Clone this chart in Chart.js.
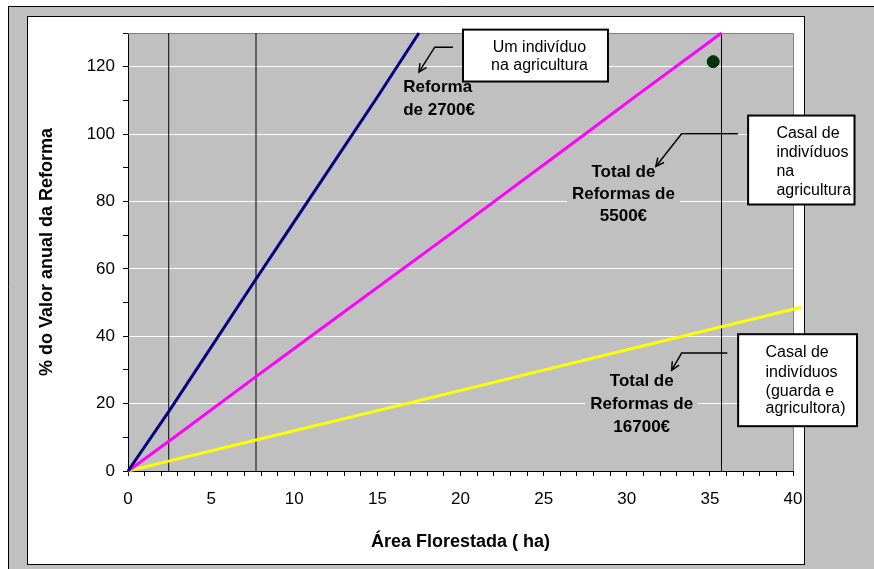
<!DOCTYPE html>
<html>
<head>
<meta charset="utf-8">
<script src="https://cdn.jsdelivr.net/npm/chart.js@4.4.0/dist/chart.umd.min.js"></script>
<style>
    html, body { margin: 0; padding: 0; background: #fff; }
</style>
</head>
<body>
<canvas id="chart" width="874" height="569"></canvas>
<script>
// values (x = ha, y = %)
const blueX = [0, 2.5, 7.7, 10, 15, 17.5];
const blueY = [0, 18, 57, 74, 111, 130];
const pinkX = [0, 2.5, 7.7, 11, 19.3, 27.5, 30.2, 35.7];
const pinkY = [0, 9, 28, 40, 70, 100, 110, 130];
const yellowX = [0, 2.5, 7.7, 17, 40.5];
const yellowY = [0, 3, 9.2, 20.3, 48.6];
const markerX = [2.45, 7.7, 35.7];
const dotX = [35.2];
const dotY = [121.5];
const xTicks = [0, 5, 10, 15, 20, 25, 30, 35, 40];
const yTicks = [0, 20, 40, 60, 80, 100, 120];

const FONT = "'Liberation Sans', Arial, sans-serif";

function pts(xs, ys) {
    return xs.map((x, i) => ({x: x, y: ys[i]}));
}

let datasets = [
    {data: pts(blueX, blueY), borderColor: '#000080', borderWidth: 3, order: 1},
    {data: pts(pinkX, pinkY), borderColor: '#ff00ff', borderWidth: 3, order: 1},
    {data: pts(yellowX, yellowY), borderColor: '#ffff00', borderWidth: 3, order: 1},
];
markerX.forEach((x) => {
    datasets.push({data: [{x: x, y: 0}, {x: x, y: 130}], borderColor: '#000', borderWidth: 1, order: 5});
});
datasets.push({
    data: pts(dotX, dotY), showLine: false, pointRadius: 6,
    pointBackgroundColor: '#003300', pointBorderColor: '#003300', order: 0
});
datasets.forEach((d) => {
    d.showLine = d.showLine !== false;
    if (d.pointRadius === undefined) d.pointRadius = 0;
    d.fill = false;
    d.clip = false;
});

// callouts, in axis units
const notes = [
    {box: [20.15, 131, 28.87, 115.6], align: 'center', tx: 24.75, lines: [['Um indivíduo', 125.6], ['na agricultura', 120.3]]},
    {box: [37.3, 105.5, 43.7, 79.1], align: 'left', tx: 39.0, lines: [['Casal de', 100.1], ['indivíduos', 94.5], ['na', 88.9], ['agricultura', 83.3]]},
    {box: [36.7, 40.6, 43.85, 13.3], align: 'left', tx: 38.35, lines: [['Casal de', 35.0], ['indivíduos', 29.3], ['(guarda e', 23.7], ['agricultora)', 18.4]]},
];
const labels = [
    {align: 'left', tx: 16.55, lines: [['Reforma', 113.8], ['de 2700€', 107.2]]},
    {align: 'center', tx: 29.8, lines: [['Total de', 88.6], ['Reformas de', 82.0], ['5500€', 75.5]]},
    {align: 'center', tx: 30.9, lines: [['Total de', 26.7], ['Reformas de', 19.9], ['16700€', 13.0]]},
];
const arrows = [
    [[19.55, 125.8], [18.45, 125.8], [17.5, 118.4]],
    [[36.7, 100.1], [33.3, 100.1], [31.75, 90.4]],
    [[36.05, 35.0], [33.3, 35.0], [32.7, 29.9]],
];

const framePlugin = {
    id: 'frame',
    beforeDraw(chart) {
        const ctx = chart.ctx;
        const a = chart.chartArea;
        ctx.save();
        ctx.fillStyle = '#fff';
        ctx.fillRect(0, 0, chart.width, chart.height);
        ctx.fillStyle = '#c0c0c0';
        ctx.fillRect(8, 6, chart.width - 8, chart.height - 6);
        ctx.strokeStyle = '#000';
        ctx.lineWidth = 1;
        ctx.beginPath();
        ctx.moveTo(8.5, chart.height);
        ctx.lineTo(8.5, 6.5);
        ctx.lineTo(chart.width, 6.5);
        ctx.stroke();
        ctx.fillStyle = '#fff';
        ctx.fillRect(27, 16, 777, 548);
        ctx.strokeRect(27.5, 16.5, 777, 548);
        ctx.fillStyle = '#c0c0c0';
        ctx.fillRect(a.left, a.top, a.right - a.left, a.bottom - a.top);
        ctx.restore();
    },
    beforeDatasetsDraw(chart) {
        const ctx = chart.ctx;
        const a = chart.chartArea;
        ctx.save();
        ctx.strokeStyle = '#808080';
        ctx.lineWidth = 1;
        ctx.beginPath();
        ctx.moveTo(a.left, a.top + 0.5);
        ctx.lineTo(a.right + 0.5, a.top + 0.5);
        ctx.lineTo(a.right + 0.5, a.bottom);
        ctx.stroke();
        ctx.restore();
    },
    afterDraw(chart) {
        const ctx = chart.ctx;
        const sx = chart.scales.x, sy = chart.scales.y;
        const X = (v) => sx.getPixelForValue(v);
        const Y = (v) => sy.getPixelForValue(v);
        ctx.save();
        ctx.textBaseline = 'middle';

        // bold labels on a grey patch so the grid breaks behind them
        ctx.font = 'bold 17px ' + FONT;
        labels.forEach((lab) => {
            ctx.textAlign = lab.align;
            lab.lines.forEach(([t, y]) => {
                const w = ctx.measureText(t).width;
                const x0 = lab.align === 'center' ? X(lab.tx) - w / 2 : X(lab.tx);
                ctx.fillStyle = '#c0c0c0';
                ctx.fillRect(x0 - 5, Y(y) - 10, w + 10, 20);
            });
            ctx.fillStyle = '#000';
            lab.lines.forEach(([t, y]) => ctx.fillText(t, X(lab.tx), Y(y)));
        });

        // callout arrows
        ctx.strokeStyle = '#000';
        ctx.lineWidth = 1.5;
        arrows.forEach((p) => {
            ctx.beginPath();
            ctx.moveTo(X(p[0][0]), Y(p[0][1]));
            ctx.lineTo(X(p[1][0]), Y(p[1][1]));
            ctx.lineTo(X(p[2][0]), Y(p[2][1]));
            ctx.stroke();
            const ex = X(p[2][0]), ey = Y(p[2][1]);
            const ang = Math.atan2(ey - Y(p[1][1]), ex - X(p[1][0]));
            ctx.beginPath();
            ctx.moveTo(ex - 9 * Math.cos(ang - 0.45), ey - 9 * Math.sin(ang - 0.45));
            ctx.lineTo(ex, ey);
            ctx.lineTo(ex - 9 * Math.cos(ang + 0.45), ey - 9 * Math.sin(ang + 0.45));
            ctx.stroke();
        });

        // white boxes
        ctx.font = '16px ' + FONT;
        notes.forEach((n) => {
            const x0 = X(n.box[0]), y0 = Y(n.box[1]), x1 = X(n.box[2]), y1 = Y(n.box[3]);
            ctx.fillStyle = '#fff';
            ctx.fillRect(x0, y0, x1 - x0, y1 - y0);
            ctx.lineWidth = 2;
            ctx.strokeRect(x0, y0, x1 - x0, y1 - y0);
            ctx.fillStyle = '#000';
            ctx.textAlign = n.align;
            n.lines.forEach(([t, y]) => ctx.fillText(t, X(n.tx), Y(y)));
        });
        ctx.restore();
    }
};

new Chart(document.getElementById('chart'), {
    type: 'scatter',
    data: {datasets: datasets},
    options: {
        responsive: false,
        animation: false,
        layout: {padding: {left: 0, top: 33, right: 81, bottom: 0}},
        plugins: {legend: {display: false}, tooltip: {enabled: false}},
        scales: {
            x: {
                type: 'linear', min: 0, max: 40,
                afterFit: (scale) => { scale.height = 98; },
                border: {color: '#000', width: 1},
                grid: {drawOnChartArea: false, tickLength: 5, tickColor: '#000'},
                ticks: {
                    stepSize: 1, autoSkip: false, maxRotation: 0, padding: 13,
                    color: '#000', font: {family: FONT, size: 17},
                    callback: (v) => xTicks.includes(v) ? String(v) : ''
                },
                title: {
                    display: true, text: 'Área Florestada ( ha)', color: '#000',
                    font: {family: FONT, size: 18, weight: 'bold'}, padding: {top: 0, bottom: 16}
                }
            },
            y: {
                type: 'linear', min: 0, max: 130,
                afterFit: (scale) => { scale.width = 128; },
                border: {color: '#000', width: 1},
                grid: {
                    tickLength: 5, tickColor: '#000',
                    color: (c) => (c.tick && yTicks.includes(c.tick.value) && c.tick.value > 0) ? '#ffffff' : 'rgba(0,0,0,0)'
                },
                ticks: {
                    stepSize: 10, autoSkip: false, padding: 8,
                    color: '#000', font: {family: FONT, size: 17},
                    callback: (v) => yTicks.includes(v) ? String(v) : ''
                },
                title: {
                    display: true, text: '% do Valor anual da Reforma', color: '#000',
                    font: {family: FONT, size: 18, weight: 'bold'}, padding: {top: 36, bottom: 0}
                }
            }
        }
    },
    plugins: [framePlugin]
});
</script>
</body>
</html>
